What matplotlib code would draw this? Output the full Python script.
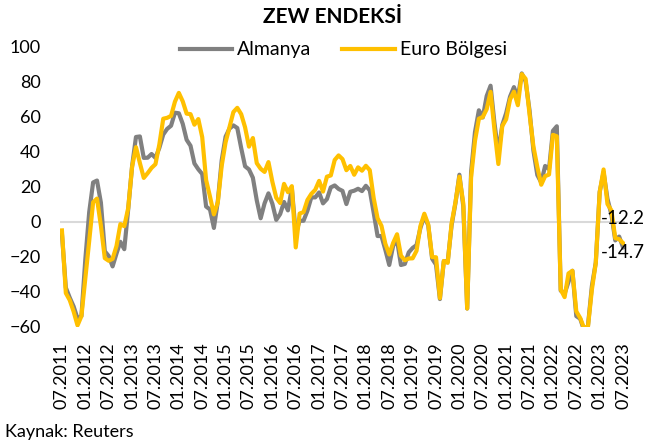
import matplotlib
matplotlib.use("Agg")
import matplotlib.pyplot as plt
import numpy as np

plt.rcParams['font.family'] = ['Lato', 'DejaVu Sans']

# ZEW beklenti endeksi, aylik 07.2011 - 07.2023
almanya = [
    -7.0, -37.6, -43.3, -48.3, -55.2, -53.8,
    -21.6, 5.4, 22.3, 23.4, 10.8, -16.9, -19.6, -25.5, -18.2, -11.5, -15.7, 6.9,
    31.5, 48.2, 48.5, 36.3, 36.4, 38.5, 36.3, 42.0, 49.6, 52.8, 54.6, 62.0,
    61.7, 55.7, 46.6, 43.2, 33.1, 29.8, 27.1, 8.6, 6.9, -3.6, 11.5, 34.9,
    48.4, 53.0, 54.8, 53.3, 41.9, 31.5, 29.7, 25.0, 12.1, 1.9, 10.4, 16.1,
    10.2, 1.0, 4.3, 11.2, 6.4, 19.2, -6.8, 0.5, 0.5, 6.2, 13.8, 13.8,
    16.6, 10.4, 12.8, 19.5, 20.6, 18.6, 17.5, 10.0, 17.0, 17.6, 18.7, 17.4,
    20.4, 17.8, 5.1, -8.2, -8.2, -16.1, -24.7, -13.7, -10.6, -24.7, -24.1, -17.5,
    -15.0, -13.4, -3.6, 3.1, -2.1, -21.1, -24.5, -44.1, -22.5, -22.8, -2.1, 10.7,
    26.7, 8.7, -49.5, 28.2, 51.0, 63.4, 59.3, 71.5, 77.4, 56.1, 39.0, 55.0,
    61.8, 71.2, 76.6, 70.7, 84.4, 79.8, 63.3, 40.4, 26.5, 22.3, 31.7, 29.9,
    51.7, 54.3, -39.3, -41.0, -34.3, -28.0, -53.8, -55.3, -61.9, -59.2, -36.7, -23.3,
    16.9, 28.1, 13.0, 4.1, -10.7, -8.5, -14.7,
]
euro = [
    -5.0, -40.7, -44.7, -51.2, -59.1, -53.8,
    -32.5, -11.0, 11.0, 13.1, -2.4, -20.8, -22.3, -21.2, -13.9, -1.4, -2.6, 7.6,
    31.2, 42.4, 33.4, 24.9, 27.6, 30.6, 32.7, 44.0, 58.6, 59.1, 60.2, 68.3,
    73.3, 68.5, 61.5, 61.2, 55.2, 58.4, 48.1, 23.7, 14.2, 4.1, 11.0, 31.8,
    45.2, 53.7, 62.4, 64.8, 61.2, 53.7, 42.7, 47.6, 33.3, 30.1, 28.3, 33.9,
    22.7, 13.6, 10.6, 21.5, 16.8, 20.2, -14.7, 4.6, 5.4, 12.3, 15.8, 18.1,
    23.2, 17.1, 25.6, 26.3, 35.1, 37.7, 35.6, 29.3, 31.7, 26.7, 30.9, 29.0,
    31.8, 29.3, 13.4, 1.9, -2.4, -12.6, -18.7, -12.1, -7.2, -19.4, -22.0, -21.0,
    -20.9, -16.6, -2.5, 4.5, -1.6, -20.2, -20.3, -43.6, -22.4, -23.5, -1.0, 11.2,
    25.6, 10.4, -49.5, 25.2, 46.0, 58.6, 59.6, 64.0, 73.9, 52.3, 32.8, 54.4,
    58.3, 69.6, 74.0, 66.3, 84.0, 81.3, 61.2, 42.7, 31.1, 21.0, 25.9, 26.8,
    49.4, 48.6, -38.7, -43.0, -29.5, -28.0, -51.1, -54.9, -60.7, -59.7, -38.7, -23.6,
    16.7, 29.7, 10.0, 6.4, -9.4, -10.0, -12.2,
]
tick_labels = [
    "07.2011", "01.2012", "07.2012", "01.2013", "07.2013", "01.2014", "07.2014",
    "01.2015", "07.2015", "01.2016", "07.2016", "01.2017", "07.2017", "01.2018",
    "07.2018", "01.2019", "07.2019", "01.2020", "07.2020", "01.2021", "07.2021",
    "01.2022", "07.2022", "01.2023", "07.2023",
]

x = np.arange(len(almanya))

fig = plt.figure(figsize=(6.45, 4.45), dpi=100)
ax = fig.add_axes([0.093, 0.2652, 0.876, 0.6314])

ax.axhline(0, color='#D9D9D9', lw=1.5, zorder=1)
ax.plot(x, almanya, color='#808080', lw=3, label='Almanya', zorder=2)
ax.plot(x, euro, color='#FFC000', lw=3, label='Euro Bölgesi', zorder=3)

ax.set_xlim(-0.5, len(x) - 0.5)
ax.set_ylim(-60, 100)
ax.set_yticks(range(-60, 101, 20))
ax.set_xticks(x[::6])
ax.set_xticklabels(tick_labels, rotation=90)
ax.tick_params(axis='both', length=0, labelsize=13)
ax.tick_params(axis='y', pad=14)
ax.tick_params(axis='x', pad=11)
for s in ax.spines.values():
    s.set_visible(False)

# son deger etiketleri
ax.annotate(f"{euro[-1]:.1f}", (x[-1], euro[-1]), xytext=(0, 18),
            textcoords='offset points', ha='center', va='center', fontsize=13.5,
            annotation_clip=False)
ax.annotate(f"{almanya[-1]:.1f}", (x[-1], almanya[-1]), xytext=(0, -4),
            textcoords='offset points', ha='center', va='center', fontsize=13.5,
            annotation_clip=False)

fig.legend(loc='center', bbox_to_anchor=(0.532, 0.888), ncol=2, frameon=False,
           fontsize=14, handlelength=2.7, handletextpad=0.25, columnspacing=1.6)

fig.text(0.516, 1 - 17 / 445, "ZEW ENDEKSİ", ha='center', va='center',
         fontsize=15, fontweight='bold')
fig.text(5 / 645, 1 - 432 / 445, "Kaynak: Reuters", ha='left', va='center',
         fontsize=13)

fig.savefig("out.png", dpi=100)
